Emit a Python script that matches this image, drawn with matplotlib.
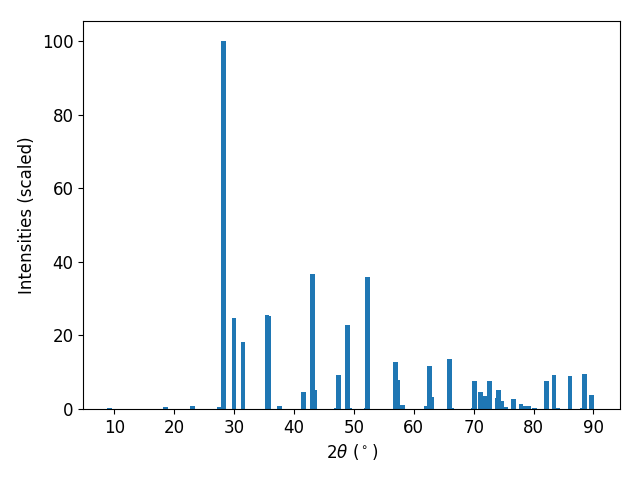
import matplotlib
matplotlib.use("Agg")
import matplotlib.pyplot as plt

two_theta = [9.2, 18.5, 23.1, 27.6, 28.2, 30.0, 31.5, 35.5, 35.7, 37.6,
             41.6, 43.1, 43.4, 47.1, 47.4, 48.9, 49.3, 52.1, 52.3,
             57.0, 57.3, 57.9, 58.2, 62.1, 62.6, 62.9, 66.0, 66.3,
             69.9, 70.2, 71.2, 71.9, 72.7, 73.9, 74.1, 74.6, 75.3,
             76.6, 77.9, 78.7, 79.2, 80.2, 82.2, 83.4, 83.8, 84.1,
             86.1, 88.1, 88.5, 89.7]
intensity = [0.3, 0.5, 0.8, 0.5, 100.0, 24.6, 18.2, 25.5, 25.2, 0.8,
             4.6, 36.6, 5.1, 0.3, 9.2, 22.8, 0.3, 0.3, 35.8,
             12.7, 7.9, 1.1, 1.1, 0.8, 11.7, 3.3, 13.5, 0.3,
             0.3, 7.6, 4.6, 3.5, 7.6, 3.0, 5.1, 2.2, 0.5,
             2.7, 1.4, 0.8, 0.8, 0.3, 7.6, 9.2, 0.3, 0.3,
             8.9, 0.3, 9.5, 3.8]

plt.rcParams['font.size'] = 12
fig = plt.figure(figsize=(6.4, 4.8), dpi=100)
ax = fig.add_axes([0.130, 0.148, 0.839, 0.808])
ax.bar(two_theta, intensity, width=0.8, color='#1f77b4')
ax.set_xlim(4.82, 94.46)
ax.set_ylim(0, 105.4)
ax.set_xlabel(r'$2\theta$ ($^\circ$)')
ax.set_ylabel('Intensities (scaled)')
fig.savefig('out.png')
